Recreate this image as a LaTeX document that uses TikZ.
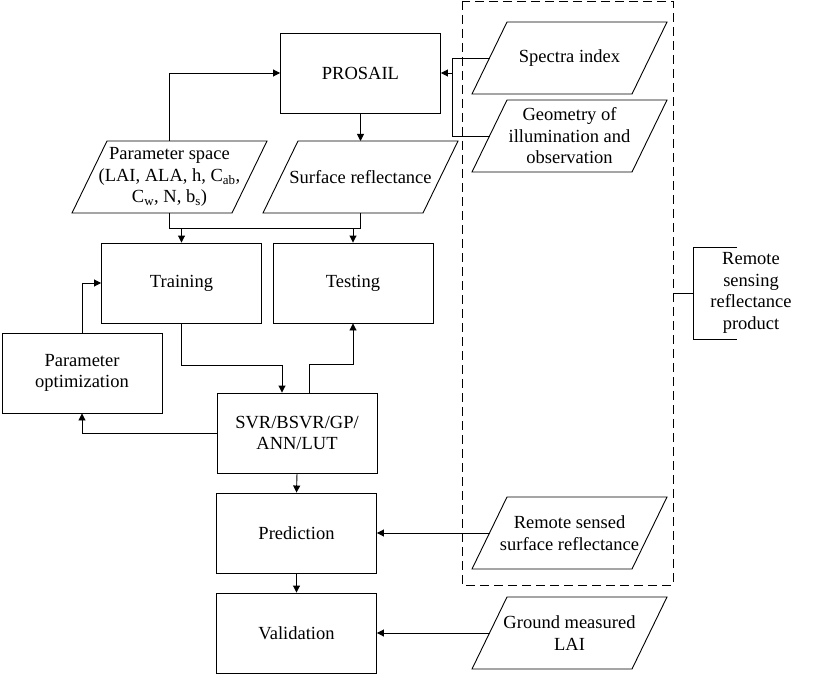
\documentclass[tikz,border=0pt]{standalone}
\usepackage{fontspec}
\setmainfont{Liberation Serif}
\usetikzlibrary{arrows.meta,calc}
\tikzset{
  ln/.style={line width=0.9pt, draw=black},
  arr/.style={ln, -{Triangle[length=7pt,width=7pt]}},
  boxnode/.style={ln, rectangle, minimum width=160pt, minimum height=80pt, align=center, inner sep=0pt, font=\fontsize{18.5}{21.5}\selectfont},
  paratext/.style={align=center, inner sep=0pt, font=\fontsize{18.5}{21.5}\selectfont},
  dashbox/.style={line width=0.9pt, dash pattern=on 9pt off 5pt},
}
\newcommand\paranode[4]{%
  \node[paratext] (#1) at (#2,#3) {#4};
  \draw[ln] ([shift={(-97.5,36)}]#1.center) -- ([shift={(62.5,36)}]#1.center) -- ([shift={(97.5,-36)}]#1.center) -- ([shift={(-62.5,-36)}]#1.center) -- cycle;
  \coordinate (#1-w) at ([shift={(-80,0)}]#1.center);
  \coordinate (#1-n) at ([shift={(0,-36)}]#1.center);
  \coordinate (#1-s) at ([shift={(0,36)}]#1.center);
}
\begin{document}
\begin{tikzpicture}[x=1pt,y=-1pt]
\useasboundingbox (0,0) rectangle (814,674);
% boxes
\node[boxnode] (prosail) at (360.5,73) {PROSAIL};
\node[boxnode] (train) at (181.5,283) {Training};
\node[boxnode] (test) at (353,283) {Testing};
\node[boxnode] (po) at (82,373) {Parameter\\optimization};
\node[boxnode] (svr) at (297,433) {SVR/BSVR/GP/\\ANN/LUT};
\node[boxnode] (pred) at (296.5,533) {Prediction};
\node[boxnode] (val) at (296.5,633) {Validation};
% parallelograms
\paranode{ps}{169.5}{177}{Parameter space\\(LAI, ALA, h, C\textsubscript{ab},\\C\textsubscript{w}, N, b\textsubscript{s})}
\paranode{sr}{360.5}{177}{Surface reflectance}
\paranode{si}{569.5}{58}{Spectra index}
\paranode{geo}{569.5}{136}{Geometry of\\illumination and\\observation}
\paranode{rs}{569.5}{533}{Remote sensed\\surface reflectance}
\paranode{gm}{569.5}{633}{Ground measured\\LAI}
% dashed group and bracket
\draw[dashbox] (462,1) rectangle (673,585);
\coordinate (dbe) at (673,293);
\node[paratext] (rsp) at (751,293) {Remote\\sensing\\reflectance\\product};
\coordinate (bt) at (737,247);
\coordinate (bb) at (737,339);
\draw[ln] (dbe) -- (693,293);
\draw[ln] (bt) -- (693,247) -- (693,339) -- (bb);
% connectors
\draw[arr] (ps-n) |- (prosail.west);
\draw[arr] (prosail.south) -- (sr-n);
\draw[ln] (ps-s) -- ++(0,15) coordinate (j1) -- (sr-s |- j1) -- (sr-s);
\draw[arr] (train.north |- j1) -- (train.north);
\draw[arr] (test.north |- j1) -- (test.north);
\draw[arr] (train.south) -- ++(0,42) -| ([shift={(-15,0)}]svr.north);
\draw[arr] ([shift={(12,0)}]svr.north) -- ++(0,-28) -| (test.south);
\draw[arr] (po.north) |- (train.west);
\draw[arr] (svr.west) -| (po.south);
\draw[arr] (svr.south) -- (pred.north);
\draw[arr] (pred.south) -- (val.north);
\draw[arr] (rs-w) -- (pred.east);
\draw[arr] (gm-w) -- (val.east);
\draw[ln] (si-w) -- ++(-37.5,0) coordinate (jr) |- (geo-w);
\draw[arr] (jr |- prosail.east) -- (prosail.east);
\end{tikzpicture}
\end{document}
